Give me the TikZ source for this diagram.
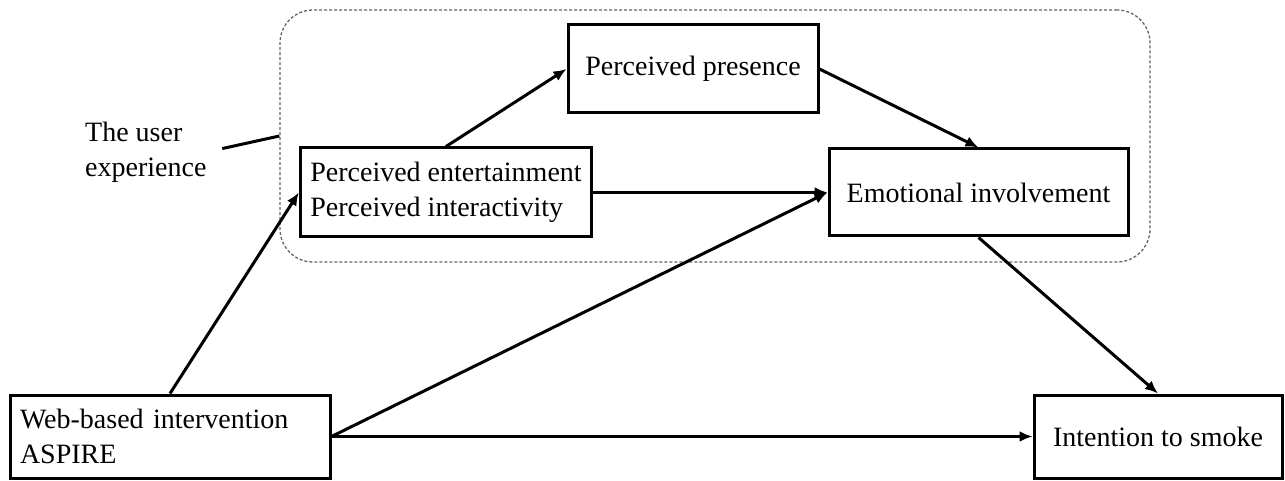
\documentclass[tikz,border=0pt]{standalone}
\usepackage{fontspec}
\setmainfont{Liberation Serif}
\usetikzlibrary{arrows.meta}

\tikzset{
  box/.style={draw, line width=3pt, inner xsep=10pt, inner ysep=0pt, align=left},
  link/.style={->, line width=3pt},
  ux/.style={draw=black!60, line width=1.3pt, dash pattern=on 3pt off 2pt, rounded corners=33pt},
}

\begin{document}
\begin{tikzpicture}[>={Latex[length=13pt,width=11pt]}, x=1pt, y=-1pt, font=\fontsize{28}{35}\selectfont]
\useasboundingbox (0,0) rectangle (1285,481);

% the user experience
\node[ux, minimum width=870pt, minimum height=252pt] (ux) at (715,136) {};
\node[anchor=west, align=left, inner sep=0pt] (lab) at (85,152) {The user\\experience};
\draw[line width=3pt, shorten <=16pt] (lab.east)--(ux.west);

\node[box, text width=300pt, minimum height=83pt] (web) at (170,436.5) {Web-based intervention\\ASPIRE};
\node[box, minimum width=288pt, minimum height=89pt] (ent) at (446,192.5) {Perceived entertainment\\Perceived interactivity};
\node[box, minimum width=250pt, minimum height=88pt] (pres) at (693,69) {Perceived presence};
\node[box, minimum width=299pt, minimum height=87pt] (emo) at (978.5,192.5) {Emotional involvement};
\node[box, minimum width=248pt, minimum height=83pt] (smoke) at (1158,436.5) {Intention to smoke};

\draw[link] (web.north)--(ent.west);
\draw[link] (ent.north)--(pres.west);
\draw[link] (pres.east)--(emo.north);
\draw[link] (ent.east)--(emo.west);
\draw[link] (web.east)--(emo.west);
\draw[link] (web.east)--(smoke.west);
\draw[link] (emo.south)--(smoke.north);
\end{tikzpicture}
\end{document}
